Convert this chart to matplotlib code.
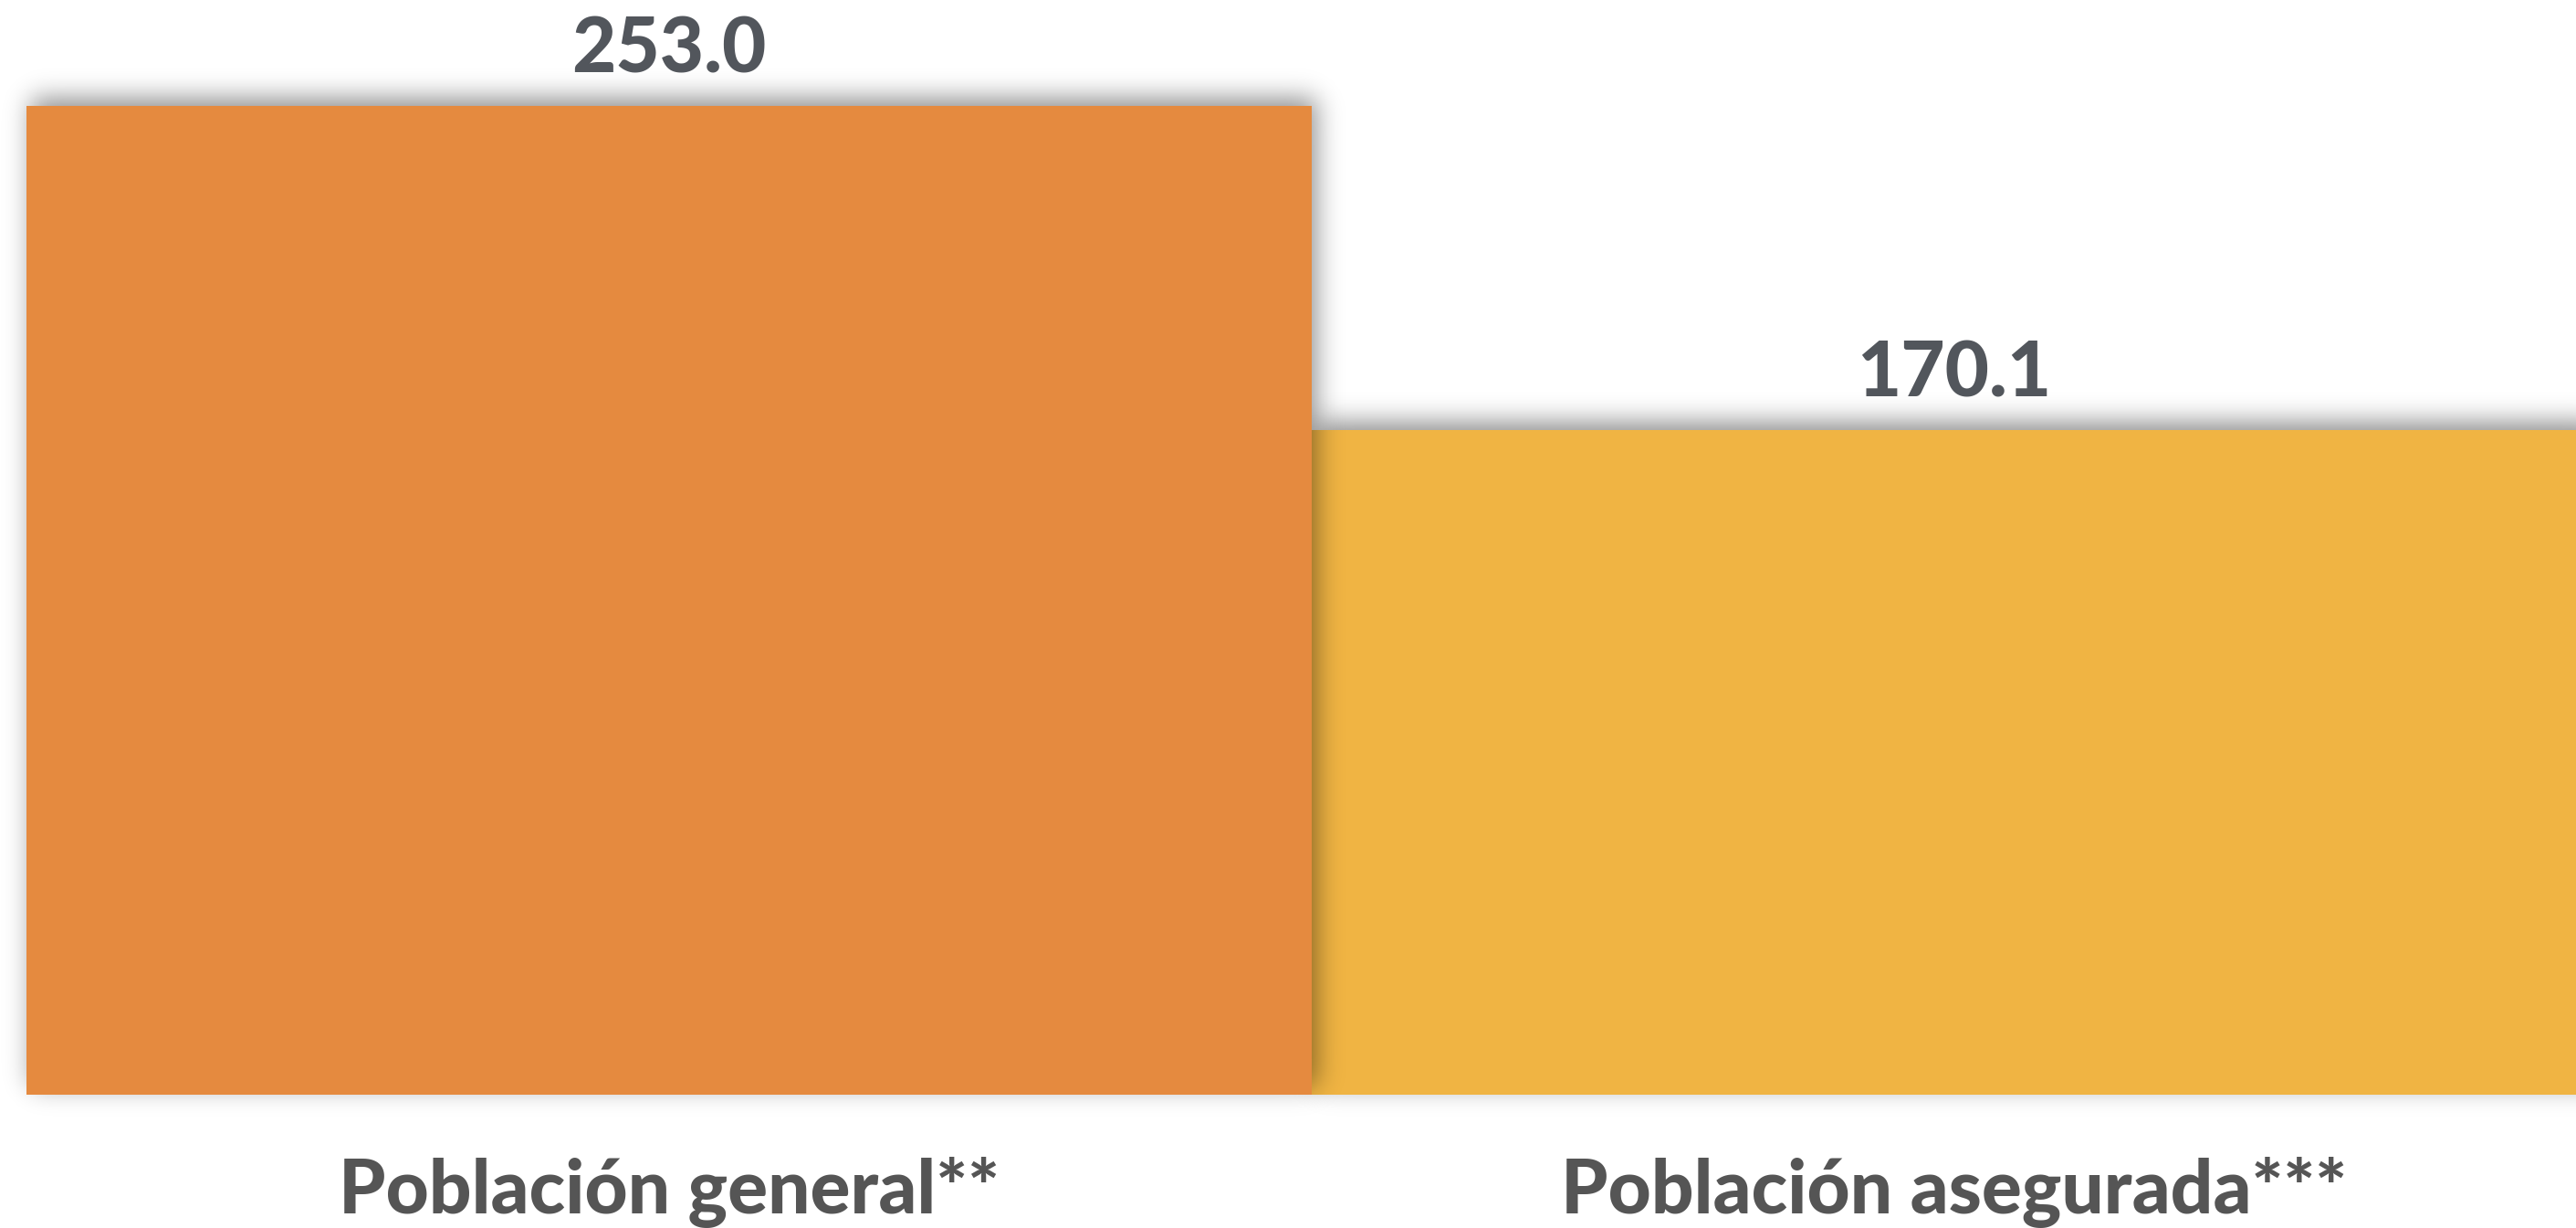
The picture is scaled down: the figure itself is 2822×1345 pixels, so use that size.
import math
import numpy as np
import matplotlib
matplotlib.use("Agg")
import matplotlib.pyplot as plt

# data
categories = ["Población general**", "Población asegurada***"]
values = [253.0, 170.1]
bar_colors = ["#E58A3F", "#F0B443"]

LABEL_COLOR = "#555555"
VALUE_COLOR = "#52565C"
FONT = "Lato"

W_PX, H_PX, DPI = 2822, 1345, 100

fig = plt.figure(figsize=(W_PX / DPI, H_PX / DPI), dpi=DPI)
ax = fig.add_axes([0, 0, 1, 1])

# layout in pixels: bar 1 left edge at 29px, bar width 1408px, baseline 1199px, 253 -> 116px
px_per_x = 1408.0
px_per_y = (1199 - 116) / values[0]
xmin = -0.5 - 29 / px_per_x
xmax = xmin + W_PX / px_per_x
ymin = -(H_PX - 1199) / px_per_y
ymax = 1199 / px_per_y
ax.set_xlim(xmin, xmax)
ax.set_ylim(ymin, ymax)
ax.axis("off")

x = np.arange(len(categories))
bars = ax.bar(x, values, width=1.0, color=bar_colors, linewidth=0)

# soft drop shadows, drawn so the left bar's shadow falls on the right bar
erf = np.vectorize(math.erf)

def smooth_box(coords, lo, hi, sigma):
    s = np.sqrt(2) * sigma
    return 0.5 * (erf((coords - lo) / s) - erf((coords - hi) / s))

xs = np.linspace(xmin, xmax, W_PX)
ys = np.linspace(ymin, ymax, H_PX)
sigma_px = 14
off_x_px, off_y_px = 5, 9
alpha_max = 0.44

n = len(bars)
for i, b in enumerate(bars):
    z = 2 * (n - i)
    b.set_zorder(z + 1)
    lo_x = b.get_x() + off_x_px / px_per_x
    hi_x = b.get_x() + b.get_width() + off_x_px / px_per_x
    lo_y = b.get_y() + off_y_px / px_per_y
    hi_y = b.get_y() + b.get_height() + off_y_px / px_per_y
    sx = smooth_box(xs, lo_x, hi_x, sigma_px / px_per_x)
    sy = smooth_box(ys, lo_y, hi_y, sigma_px / px_per_y)
    a = alpha_max * np.outer(sy, sx)
    img = np.zeros((H_PX, W_PX, 4))
    img[..., 3] = a
    ax.imshow(img, extent=(xmin, xmax, ymin, ymax), origin="lower",
              aspect="auto", interpolation="bilinear", zorder=z)

ax.set_xlim(xmin, xmax)
ax.set_ylim(ymin, ymax)

# value labels
for xi, v in zip(x, values):
    ax.annotate(f"{v:.1f}", (xi, v), xytext=(0, 26), textcoords="offset points",
                ha="center", va="baseline", fontsize=60, fontweight="black",
                family=FONT, color=VALUE_COLOR, zorder=10)

# category labels
for xi, c in zip(x, categories):
    ax.annotate(c, (xi, 0), xytext=(0, -93.6), textcoords="offset points",
                ha="center", va="baseline", fontsize=59, fontweight="black",
                family=FONT, color=LABEL_COLOR, zorder=10)

fig.savefig("out.png", dpi=DPI, facecolor="white")
